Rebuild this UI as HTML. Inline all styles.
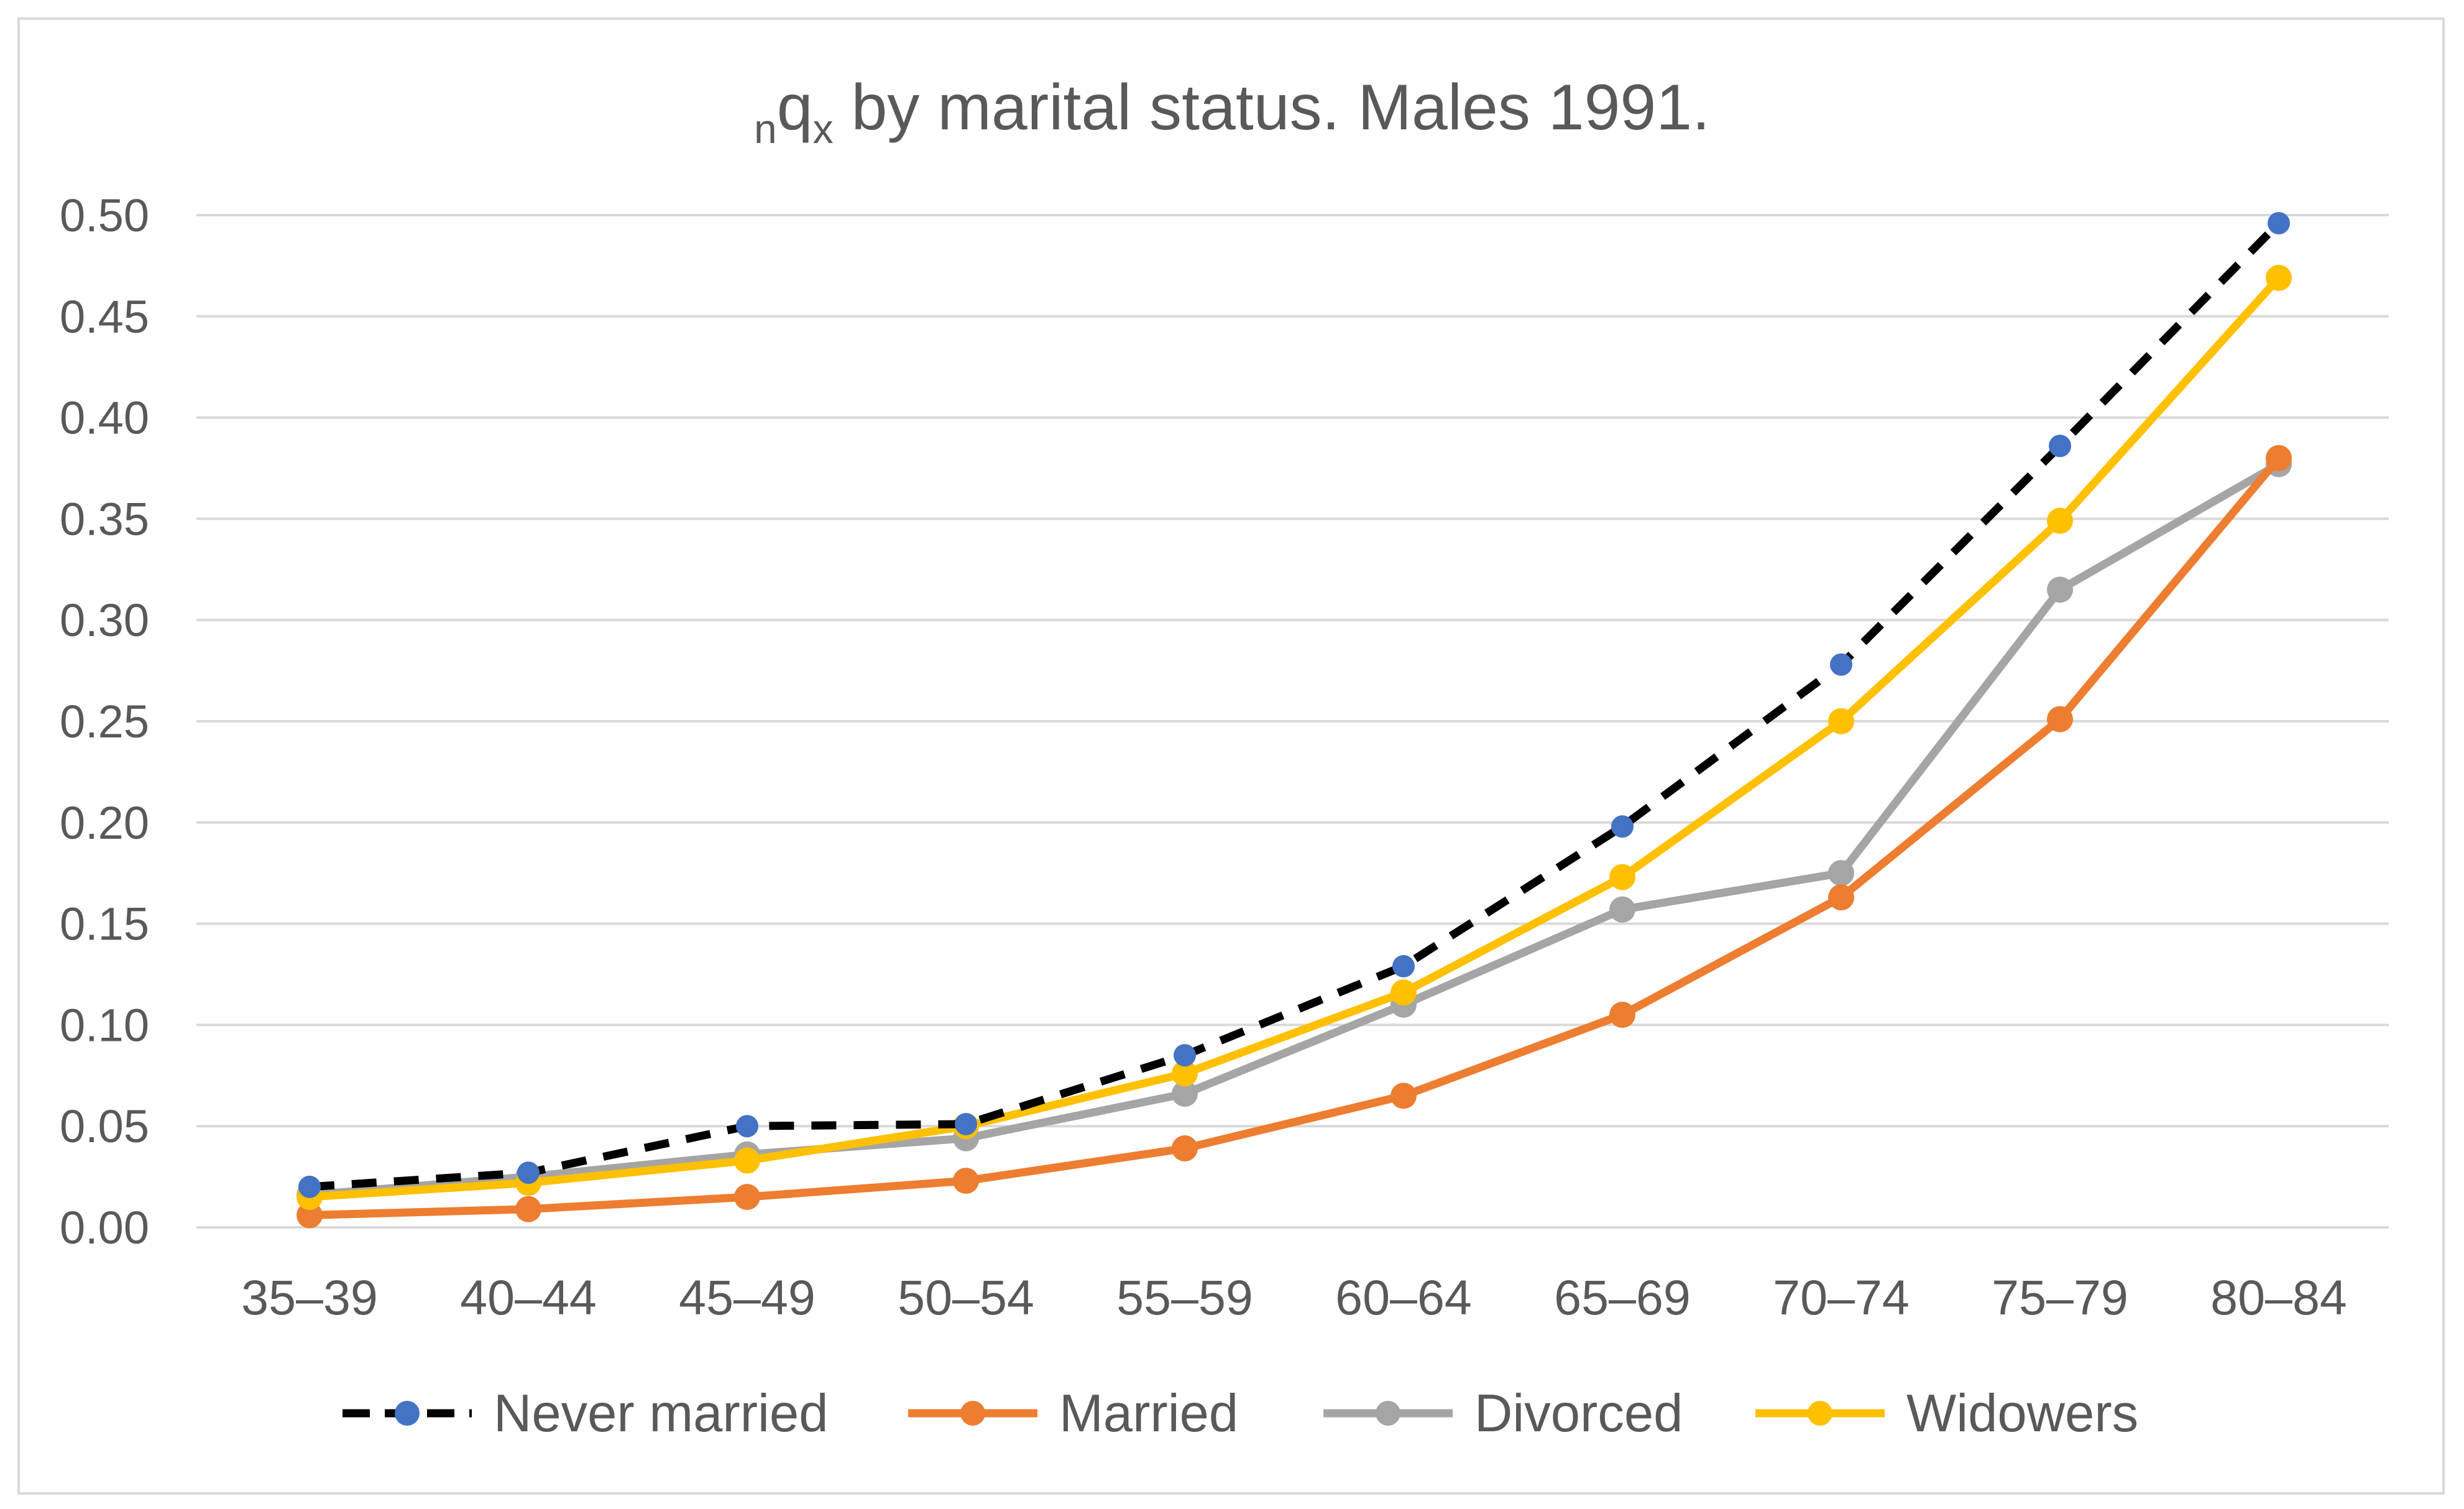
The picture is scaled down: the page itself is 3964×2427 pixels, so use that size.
<!DOCTYPE html>
<html><head><meta charset="utf-8"><style>
body{margin:0;background:#fff;}
svg text{font-family:"Liberation Sans",sans-serif;fill:#595959;}
</style></head><body>
<svg width="3964" height="2422" xmlns="http://www.w3.org/2000/svg">
<rect x="30" y="30" width="3901" height="2372" fill="#fff" stroke="#d9d9d9" stroke-width="4"/>
<text x="1982" y="208" font-size="104" text-anchor="middle"><tspan font-size="66" dy="22">n</tspan><tspan dy="-22">q</tspan><tspan font-size="66" dy="22">x</tspan><tspan dy="-22"> by marital status. Males 1991.</tspan></text>
<g id="grid"></g><g id="series"></g><g id="legend"></g>
</svg>
<script>
const categories=["35–39","40–44","45–49","50–54","55–59","60–64","65–69","70–74","75–79","80–84"];
const yTicks=[0,0.05,0.10,0.15,0.20,0.25,0.30,0.35,0.40,0.45,0.50];
const neverMarried=[0.020,0.027,0.050,0.051,0.085,0.129,0.198,0.278,0.386,0.496];
const married=[0.006,0.009,0.015,0.023,0.039,0.065,0.105,0.163,0.251,0.380];
const divorced=[0.016,0.025,0.036,0.044,0.066,0.110,0.157,0.175,0.315,0.377];
const widowers=[0.015,0.022,0.033,0.050,0.076,0.116,0.173,0.250,0.349,0.469];
const NS="http://www.w3.org/2000/svg";
const x0=498,x1=3666,y0=1974,y1=346;
function xs(i){return x0+(x1-x0)*i/(categories.length-1);}
function ys(v){return y0-(y0-y1)*v/0.5;}
function mk(t,a,p){const e=document.createElementNS(NS,t);for(const k in a)e.setAttribute(k,a[k]);p.appendChild(e);return e;}
const g=document.getElementById('grid');
yTicks.forEach(v=>{
 const l=mk('line',{x1:316,x2:3843,y1:ys(v),y2:ys(v),stroke:'#d9d9d9','stroke-width':4},g);
 
 
 const t=mk('text',{x:240,y:ys(v)+26,'font-size':74,'text-anchor':'end'},g);
 t.textContent=v.toFixed(2);
 
 
});
categories.forEach((c,i)=>{
 const t=mk('text',{x:xs(i),y:2114,'font-size':79,'text-anchor':'middle'},g);
 t.textContent=c;
 
 
});
const S=document.getElementById('series');
const defs=[
 {d:divorced,c:'#a5a5a5',dash:null,m:'#a5a5a5',r:21,n:'divorced'},
 {d:married,c:'#ed7d31',dash:null,m:'#ed7d31',r:21,n:'married'},
 {d:widowers,c:'#ffc000',dash:null,m:'#ffc000',r:21,n:'widowers'},
 {d:neverMarried,c:'#000',dash:'40 28',m:'#4472c4',r:18,n:'never-married'}];
defs.forEach(s=>{
 const p=mk('polyline',{points:s.d.map((v,i)=>xs(i)+','+ys(v)).join(' '),fill:'none',stroke:s.c,'stroke-width':13,'stroke-linejoin':'round'},S);
 if(s.dash)p.setAttribute('stroke-dasharray',s.dash);
 
 
 s.d.forEach((v,i)=>{
  const c=mk('circle',{cx:xs(i),cy:ys(v),r:s.r,fill:s.m},S);
  
  
 });
});
const L=document.getElementById('legend');
const leg=[
 {x:551,t:'Never married',c:'#000',m:'#4472c4',dash:'40 28',n:'legend-never-married'},
 {x:1461,t:'Married',c:'#ed7d31',m:'#ed7d31',dash:null,n:'legend-married'},
 {x:2129,t:'Divorced',c:'#a5a5a5',m:'#a5a5a5',dash:null,n:'legend-divorced'},
 {x:2824,t:'Widowers',c:'#ffc000',m:'#ffc000',dash:null,n:'legend-widowers'}];
leg.forEach(e=>{
 const gg=mk('g',{},L);
 
 
 const l=mk('line',{x1:e.x,x2:e.x+208,y1:2273,y2:2273,stroke:e.c,'stroke-width':13},gg);
 if(e.dash)l.setAttribute('stroke-dasharray','44 24');
 mk('circle',{cx:e.x+104,cy:2273,r:20,fill:e.m},gg);
 const t=mk('text',{x:e.x+243,y:2302,'font-size':85},gg);
 t.textContent=e.t;
});
</script>
</body></html>
